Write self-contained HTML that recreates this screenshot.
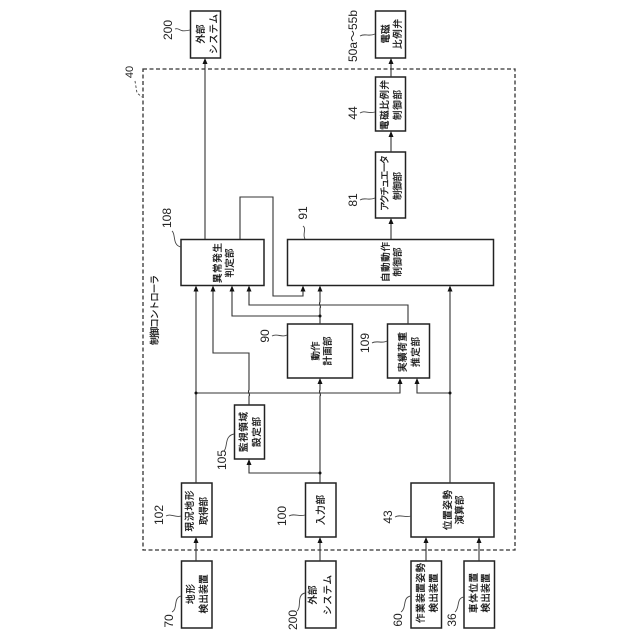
<!DOCTYPE html>
<html>
<head>
<meta charset="utf-8">
<style>
html,body{margin:0;padding:0;background:#fff;width:640px;height:640px;overflow:hidden}
svg{display:block}
.b{fill:#fff;stroke:#222;stroke-width:1.5}
.l{fill:none;stroke:#333;stroke-width:1.1}
.e{fill:none;stroke:#444;stroke-width:.9}
.t{font-family:"Liberation Sans","Noto Sans CJK JP",sans-serif;font-size:9.5px;fill:#111;stroke:#111;stroke-width:.25;text-anchor:middle}
.n{font-family:"Liberation Sans",sans-serif;font-size:12px;fill:#222;text-anchor:middle}
.a{fill:#111;stroke:none}
.d{fill:#111;stroke:none}
</style>
</head>
<body>
<svg width="640" height="640" viewBox="0 0 640 640" xmlns="http://www.w3.org/2000/svg">
<rect x="143" y="69" width="372" height="481" fill="none" stroke="#333" stroke-width="1.3" stroke-dasharray="4 2.500"/>
<path d="M135 81 L137 93 L142 97" fill="none" stroke="#444" stroke-width=".9" stroke-dasharray="2.500 2"/>

<!-- boxes -->
<rect class="b" x="190.500" y="11" width="30" height="47"/>
<rect class="b" x="375.500" y="11" width="30" height="47"/>
<rect class="b" x="375.500" y="77" width="30" height="54"/>
<rect class="b" x="375.500" y="152" width="30" height="66"/>
<rect class="b" x="181" y="239.500" width="83" height="46"/>
<rect class="b" x="287.500" y="239.500" width="206" height="46"/>
<rect class="b" x="287.500" y="324" width="65" height="54"/>
<rect class="b" x="387.500" y="324" width="42" height="54"/>
<rect class="b" x="234.500" y="405" width="30" height="54"/>
<rect class="b" x="181.500" y="483" width="30.500" height="54"/>
<rect class="b" x="305.500" y="483" width="30.500" height="54"/>
<rect class="b" x="411" y="483" width="83" height="54"/>
<rect class="b" x="181.500" y="561" width="30.500" height="67"/>
<rect class="b" x="305.500" y="561" width="30.500" height="67"/>
<rect class="b" x="411" y="561" width="30.500" height="67"/>
<rect class="b" x="464" y="561" width="30.500" height="67"/>

<!-- connectors -->
<path class="l" d="M205 239 V62"/>
<path class="l" d="M391 239 V222"/>
<path class="l" d="M391 152 V135"/>
<path class="l" d="M391 77 V62"/>
<path class="l" d="M196 483 V289"/>
<path class="l" d="M196 393 H400 V382"/>
<path class="l" d="M249 405 V396 C251 395 247 392 249 390 V353 H213 V289"/>
<path class="l" d="M320 483 V396 C322 395 318 392 320 390 V382"/>
<path class="l" d="M320 473 H249 V463"/>
<path class="l" d="M320 324 V308 C322 307 318 304 320 302 V289"/>
<path class="l" d="M320 316 H232 V289"/>
<path class="l" d="M408 324 V305 H249 V289"/>
<path class="l" d="M240 239 V197 H273 V296 H303 V289"/>
<path class="l" d="M450 483 V289"/>
<path class="l" d="M450 393 H417 V382"/>
<path class="l" d="M196 561 V541"/>
<path class="l" d="M320 561 V541"/>
<path class="l" d="M426 561 V541"/>
<path class="l" d="M479 561 V541"/>

<!-- arrowheads -->
<g class="a">
<path d="M205 58 l-2.500 6 h5z"/>
<path d="M391 218 l-2.500 6 h5z"/>
<path d="M391 131 l-2.500 6 h5z"/>
<path d="M391 58 l-2.500 6 h5z"/>
<path d="M196 285.500 l-2.500 6 h5z"/>
<path d="M213 285.500 l-2.500 6 h5z"/>
<path d="M232 285.500 l-2.500 6 h5z"/>
<path d="M249 285.500 l-2.500 6 h5z"/>
<path d="M303 285.500 l-2.500 6 h5z"/>
<path d="M320 285.500 l-2.500 6 h5z"/>
<path d="M450 285.500 l-2.500 6 h5z"/>
<path d="M320 378 l-2.500 6 h5z"/>
<path d="M400 378 l-2.500 6 h5z"/>
<path d="M417 378 l-2.500 6 h5z"/>
<path d="M249 459 l-2.500 6 h5z"/>
<path d="M196 537 l-2.500 6 h5z"/>
<path d="M320 537 l-2.500 6 h5z"/>
<path d="M426 537 l-2.500 6 h5z"/>
<path d="M479 537 l-2.500 6 h5z"/>
</g>
<g class="d">
<circle cx="196" cy="393" r="1.500"/>
<circle cx="450" cy="393" r="1.500"/>
<circle cx="320" cy="473" r="1.500"/>
<circle cx="320" cy="316" r="1.500"/>
</g>

<!-- leaders -->
<path class="e" d="M175 29 C180 27 178 33 190 30"/>
<path class="e" d="M360 36 C365 33 368 37 375 34"/>
<path class="e" d="M360 113 C365 110 368 114 375 112"/>
<path class="e" d="M360 200 C365 197 368 201 375 198"/>
<path class="e" d="M172 231 C176 234 172 245 181 247"/>
<path class="e" d="M303 226 C307 229 302 234 305 239"/>
<path class="e" d="M272 336 C277 333 282 338 287 335"/>
<path class="e" d="M372 343 C377 340 382 344 387 341"/>
<path class="e" d="M224 451 C228 447 224 436 234 434"/>
<path class="e" d="M166 516 C171 513 175 518 181 516"/>
<path class="e" d="M289 516 C294 513 299 517 305 515"/>
<path class="e" d="M172 612 C178 609 173 598 181 596"/>
<path class="e" d="M297 611 C302 607 296 595 305 593"/>
<path class="e" d="M401 612 C407 608 402 597 411 596"/>
<path class="e" d="M455 612 C460 608 456 598 464 597"/>
<path class="e" d="M395 517 C400 514 405 518 411 516"/>

<!-- numbers -->
<text class="n" transform="translate(172,30) rotate(-90)">200</text>
<text class="n" transform="translate(357,36) rotate(-90)">50a～55b</text>
<text class="n" transform="translate(357,113) rotate(-90)">44</text>
<text class="n" transform="translate(357,200) rotate(-90)">81</text>
<text class="n" transform="translate(171,218) rotate(-90)">108</text>
<text class="n" transform="translate(307,213) rotate(-90)">91</text>
<text class="n" transform="translate(269,336) rotate(-90)">90</text>
<text class="n" transform="translate(369,343) rotate(-90)">109</text>
<text class="n" transform="translate(226,460) rotate(-90)">105</text>
<text class="n" transform="translate(163,515) rotate(-90)">102</text>
<text class="n" transform="translate(286,516) rotate(-90)">100</text>
<text class="n" transform="translate(392,517) rotate(-90)">43</text>
<text class="n" transform="translate(173,621) rotate(-90)">70</text>
<text class="n" transform="translate(297,620) rotate(-90)">200</text>
<text class="n" transform="translate(402,620) rotate(-90)">60</text>
<text class="n" transform="translate(456,620) rotate(-90)">36</text>
<text class="n" style="font-size:11px" transform="translate(133,72) rotate(-90)">40</text>

<!-- box labels -->
<text class="t" transform="translate(204,34) rotate(-90)" textLength="19">外部</text>
<text class="t" transform="translate(217,34) rotate(-90)" textLength="40">システム</text>
<text class="t" transform="translate(389,34) rotate(-90)" textLength="19">電磁</text>
<text class="t" transform="translate(401,34) rotate(-90)" textLength="30">比例弁</text>
<text class="t" transform="translate(388,105) rotate(-90)" textLength="50">電磁比例弁</text>
<text class="t" transform="translate(401,105) rotate(-90)" textLength="30">制御部</text>
<text class="t" transform="translate(388,183) rotate(-90)" textLength="56">アクチュエータ</text>
<text class="t" transform="translate(401,186) rotate(-90)" textLength="28">制御部</text>
<text class="t" transform="translate(221,263) rotate(-90)" textLength="40">異常発生</text>
<text class="t" transform="translate(233,263) rotate(-90)" textLength="29">判定部</text>
<text class="t" transform="translate(389,262) rotate(-90)" textLength="40">自動動作</text>
<text class="t" transform="translate(401,262) rotate(-90)" textLength="29">制御部</text>
<text class="t" transform="translate(319,351) rotate(-90)" textLength="19">動作</text>
<text class="t" transform="translate(331,351) rotate(-90)" textLength="29">計画部</text>
<text class="t" transform="translate(406,352) rotate(-90)" textLength="40">実績荷重</text>
<text class="t" transform="translate(419,352) rotate(-90)" textLength="30">推定部</text>
<text class="t" transform="translate(247,432) rotate(-90)" textLength="40">監視領域</text>
<text class="t" transform="translate(260,432) rotate(-90)" textLength="30">設定部</text>
<text class="t" transform="translate(193,511) rotate(-90)" textLength="41">現況地形</text>
<text class="t" transform="translate(207,511) rotate(-90)" textLength="28">取得部</text>
<text class="t" transform="translate(324,510) rotate(-90)" textLength="30">入力部</text>
<text class="t" transform="translate(451,510) rotate(-90)" textLength="40">位置姿勢</text>
<text class="t" transform="translate(463,510) rotate(-90)" textLength="29">演算部</text>
<text class="t" transform="translate(194,594) rotate(-90)" textLength="20">地形</text>
<text class="t" transform="translate(207,594) rotate(-90)" textLength="39">検出装置</text>
<text class="t" transform="translate(316,595) rotate(-90)" textLength="19">外部</text>
<text class="t" transform="translate(331,595) rotate(-90)" textLength="40">システム</text>
<text class="t" transform="translate(424,593) rotate(-90)" textLength="60">作業装置姿勢</text>
<text class="t" transform="translate(437,593) rotate(-90)" textLength="39">検出装置</text>
<text class="t" transform="translate(477,593) rotate(-90)" textLength="40">車体位置</text>
<text class="t" transform="translate(489,593) rotate(-90)" textLength="39">検出装置</text>
<text class="t" transform="translate(158,310) rotate(-90)" textLength="70">制御コントローラ</text>
</svg>
</body>
</html>
